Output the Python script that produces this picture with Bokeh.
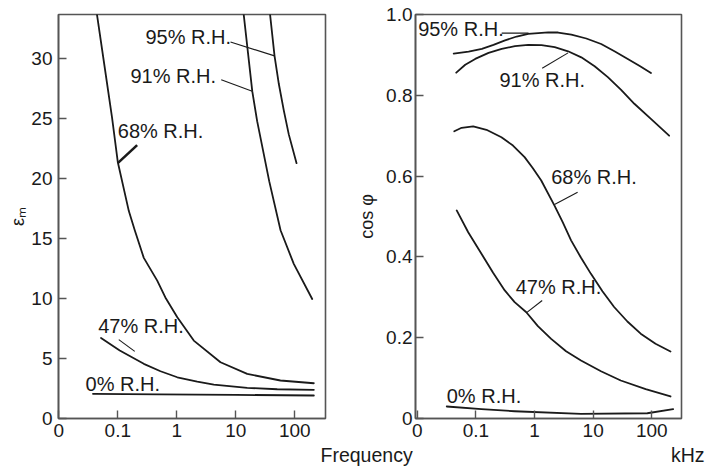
from bokeh.plotting import figure
from bokeh.models import Range1d, FixedTicker
from bokeh.layouts import row, column
from bokeh.embed import file_html
from bokeh.resources import INLINE
from bokeh.core.properties import value

FONT = "Liberation Sans"
INK = "#1a1a1a"
FRAME = "#555555"

# ---------------- data ----------------
freq_ticks = [0.01, 0.1, 1, 10, 100]
freq_labels = ["0", "0.1", "1", "10", "100"]
eps_ticks = [0, 5, 10, 15, 20, 25, 30]
cos_ticks = [0, 0.2, 0.4, 0.6, 0.8, 1]
cos_labels = ["0", "0.2", "0.4", "0.6", "0.8", "1.0"]
rh_labels = ["95% R.H.", "91% R.H.", "68% R.H.", "47% R.H.", "0% R.H."]

# permittivity eps_m vs frequency (kHz)
eps95_f = [37.5, 45.3, 53.6, 65, 79, 107]
eps95_y = [34.0, 30.25, 27.9, 25.7, 23.7, 21.3]
eps91_f = [13.4, 19.0, 23, 36.8, 57.3, 96, 197]
eps91_y = [34.0, 27.3, 24.8, 19.8, 15.7, 12.9, 9.97]
eps68_f = [0.0435, 0.058, 0.080, 0.100, 0.154, 0.194, 0.276, 0.466, 0.64, 1.02, 1.94, 5.5, 15.6, 57, 210]
eps68_y = [34.0, 29.8, 25.1, 21.4, 17.3, 15.7, 13.4, 11.5, 10.1, 8.44, 6.5, 4.69, 3.72, 3.17, 2.94]
eps47_f = [0.052, 0.108, 0.276, 0.53, 1.02, 2.22, 4.24, 15.6, 50.3, 210]
eps47_y = [6.72, 5.67, 4.56, 3.94, 3.44, 3.08, 2.83, 2.56, 2.44, 2.39]
eps0_f = [0.038, 0.5, 10, 210]
eps0_y = [2.06, 2.02, 1.97, 1.92]

# cos phi vs frequency (kHz)
cos95_f = [0.0417, 0.0749, 0.126, 0.199, 0.313, 0.495, 0.78, 1.71, 2.52, 4.25, 7.64, 13.7, 23.1, 39, 61.4, 97]
cos95_y = [0.903, 0.908, 0.915, 0.925, 0.936, 0.9455, 0.952, 0.956, 0.9554, 0.950, 0.9406, 0.927, 0.909, 0.890, 0.873, 0.855]
cos91_f = [0.0461, 0.0656, 0.097, 0.164, 0.275, 0.463, 0.78, 1.315, 2.21, 3.73, 6.28, 10.6, 17.8, 30.0, 50.5, 96.8, 198]
cos91_y = [0.856, 0.8755, 0.890, 0.905, 0.915, 0.9215, 0.925, 0.924, 0.919, 0.909, 0.894, 0.872, 0.845, 0.8136, 0.779, 0.7418, 0.700]
cos68_f = [0.0427, 0.0569, 0.0896, 0.151, 0.272, 0.428, 0.676, 0.936, 1.30, 2.19, 3.02, 4.2, 6.21, 9.17, 14.4, 22.8, 38.4, 64.8, 116, 209]
cos68_y = [0.711, 0.7196, 0.723, 0.7146, 0.696, 0.6757, 0.647, 0.6196, 0.589, 0.527, 0.4859, 0.441, 0.3978, 0.358, 0.3151, 0.276, 0.2401, 0.210, 0.1849, 0.166]
cos47_f = [0.0469, 0.0737, 0.124, 0.196, 0.31, 0.457, 0.723, 1.14, 1.92, 3.45, 6.2, 13.6, 29.6, 78.8, 209]
cos47_y = [0.515, 0.461, 0.408, 0.3606, 0.317, 0.288, 0.263, 0.2285, 0.197, 0.1666, 0.1436, 0.117, 0.094, 0.0726, 0.0545]
cos0_f = [0.0317, 0.124, 0.457, 6.2, 84, 232]
cos0_y = [0.0297, 0.023, 0.018, 0.0116, 0.013, 0.023]

# label anchors (left edge, top of text box) and leader lines
eps_lab_f = [0.294, 0.164, 0.100, 0.0465, 0.0284]
eps_lab_y = [32.72, 29.47, 24.89, 8.64, 3.78]
eps_lead_f0 = [8.13, 5.66, 0.104]
eps_lead_y0 = [31.4, 28.25, 6.58]
eps_lead_f1 = [45.3, 19.0, 0.194]
eps_lead_y1 = [30.25, 27.3, 5.6]
eps_thick_f = [0.213, 0.100]
eps_thick_y = [22.8, 21.3]

cos_lab_f = [0.0103, 0.252, 1.92, 0.476, 0.0317]
cos_lab_y = [0.991, 0.8646, 0.6238, 0.3515, 0.0834]
cos_lead_f0 = [0.275, 1.35, 5.43, 1.35]
cos_lead_y0 = [0.954, 0.867, 0.560, 0.292]
cos_lead_f1 = [0.791, 3.73, 2.19, 0.723]
cos_lead_y1 = [0.954, 0.905, 0.5297, 0.2616]

H1 = 443
H2 = 23


def style(p, label_standoff, axis_label_standoff):
    p.grid.visible = False
    p.outline_line_color = FRAME
    p.outline_line_width = 1.6
    p.background_fill_color = "white"
    p.border_fill_color = "white"
    for ax in (p.xaxis[0], p.yaxis[0]):
        ax.major_tick_in = 8
        ax.major_tick_out = 0
        ax.minor_tick_line_color = None
        ax.axis_line_color = FRAME
        ax.axis_line_width = 1.6
        ax.major_tick_line_color = FRAME
        ax.major_tick_line_width = 1.4
        ax.major_label_text_font = FONT
        ax.major_label_text_font_size = "19px"
        ax.major_label_text_color = INK
        ax.axis_label_text_font = FONT
        ax.axis_label_text_font_size = "18px"
        ax.axis_label_text_font_style = "normal"
        ax.axis_label_text_color = INK
    p.xaxis[0].ticker = FixedTicker(ticks=freq_ticks)
    p.xaxis[0].major_label_overrides = {t: s for t, s in zip(freq_ticks, freq_labels)}
    p.xaxis[0].major_label_standoff = 5
    p.yaxis[0].major_label_standoff = label_standoff
    p.yaxis[0].axis_label_standoff = axis_label_standoff


def curves(p, series):
    for f, y in series:
        p.line(f, y, line_color=INK, line_width=1.8, line_join="round", line_cap="round")


# ---------------- left panel ----------------
p1 = figure(width=354, height=H1, x_axis_type="log", title=None,
            x_range=Range1d(0.0099, 331), y_range=Range1d(0, 33.7),
            output_backend="svg", toolbar_location=None,
            min_border_left=58, min_border_right=29, min_border_top=14, min_border_bottom=25)
style(p1, 6, 0)
p1.yaxis[0].ticker = FixedTicker(ticks=eps_ticks)
p1.yaxis[0].axis_label = "εₘ"
curves(p1, [(eps95_f, eps95_y), (eps91_f, eps91_y), (eps68_f, eps68_y),
            (eps47_f, eps47_y), (eps0_f, eps0_y)])
p1.segment(eps_lead_f0, eps_lead_y0, eps_lead_f1, eps_lead_y1, line_color=INK, line_width=1.1)
p1.line(eps_thick_f, eps_thick_y, line_color=INK, line_width=2.6)
p1.text(x=eps_lab_f, y=eps_lab_y, text=rh_labels, text_font=value(FONT), text_font_size="20px",
        text_baseline="top", text_align="left", text_color=INK)

# ---------------- right panel ----------------
p2 = figure(width=354, height=H1, x_axis_type="log", title=None,
            x_range=Range1d(0.00929, 322), y_range=Range1d(0, 1.0),
            output_backend="svg", toolbar_location=None,
            min_border_left=59, min_border_right=27, min_border_top=14, min_border_bottom=25)
style(p2, 3, 6)
p2.yaxis[0].ticker = FixedTicker(ticks=cos_ticks)
p2.yaxis[0].major_label_overrides = {t: s for t, s in zip(cos_ticks, cos_labels)}
p2.yaxis[0].axis_label = "cos φ"
curves(p2, [(cos95_f, cos95_y), (cos91_f, cos91_y), (cos68_f, cos68_y),
            (cos47_f, cos47_y), (cos0_f, cos0_y)])
p2.segment(cos_lead_f0, cos_lead_y0, cos_lead_f1, cos_lead_y1, line_color=INK, line_width=1.1)
p2.text(x=cos_lab_f, y=cos_lab_y, text=rh_labels, text_font=value(FONT), text_font_size="20px",
        text_baseline="top", text_align="left", text_color=INK)

# ---------------- bottom strip with the shared axis title ----------------
strip = figure(width=708, height=H2, x_range=Range1d(0, 708), y_range=Range1d(0, H2),
               output_backend="svg", toolbar_location=None, title=None,
               min_border=0, min_border_left=0, min_border_right=0,
               min_border_top=0, min_border_bottom=0,
               x_axis_location=None, y_axis_location=None)
strip.grid.visible = False
strip.outline_line_color = None
strip.background_fill_color = "white"
strip.border_fill_color = "white"
strip.text(x=[320, 704], y=[H2, H2], text=["Frequency", "kHz"], text_align=["left", "right"],
           text_font=value(FONT), text_font_size="19.5px", text_baseline="top", text_color=INK)

layout = column(row(p1, p2), strip)
open("out.html", "w").write(file_html(layout, INLINE))
